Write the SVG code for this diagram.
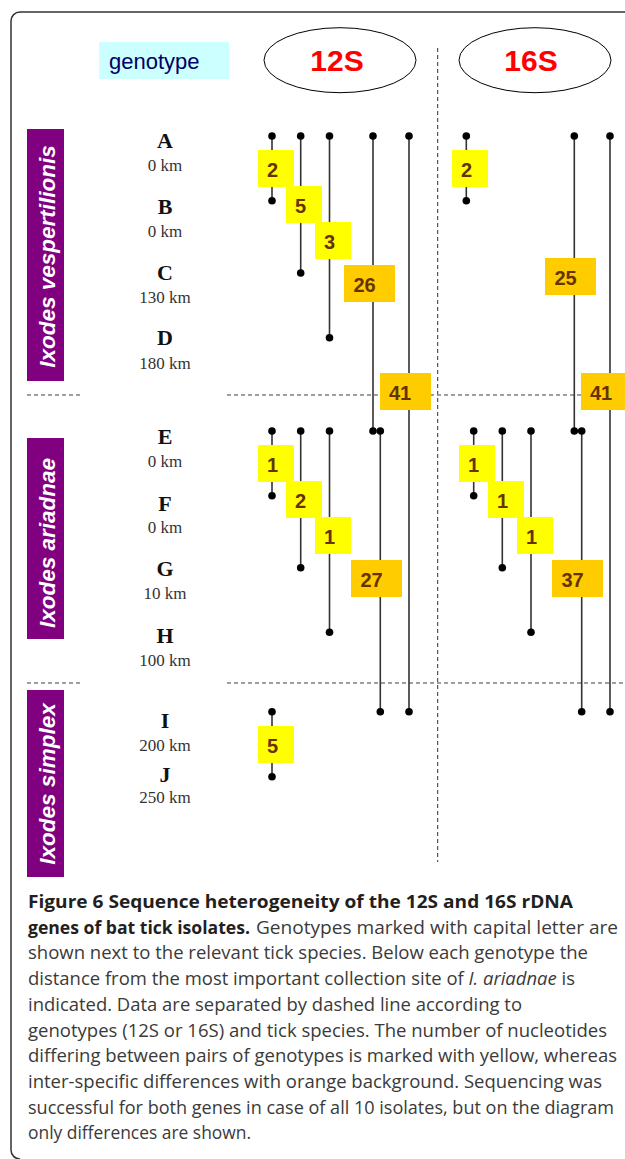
<svg xmlns="http://www.w3.org/2000/svg" width="625" height="1159" viewBox="0 0 625 1159">
<style>
.frame{fill:none;stroke:#333;stroke-width:1.5}
.hd{stroke:#808080;stroke-width:1.5;stroke-dasharray:4 3;fill:none}
.vd{stroke:#333;stroke-width:1;stroke-dasharray:4 3;fill:none}
.ln{stroke:#333;stroke-width:1.6;fill:none}
.dot{fill:#000}
.yb{fill:#ffff00}
.ob{fill:#ffcc00}
.num{font-family:"Liberation Sans",Arial,sans-serif;font-weight:bold;font-size:20px;fill:#663300}
.sp{fill:#800080}
.spt{font-family:"Liberation Sans",Arial,sans-serif;font-weight:bold;font-style:italic;font-size:22.5px;fill:#fff}
.let{font-family:"Liberation Serif","Times New Roman",serif;font-weight:bold;font-size:22px;fill:#111;text-anchor:middle}
.km{font-family:"Liberation Serif","Times New Roman",serif;font-size:17px;fill:#333;text-anchor:middle}
.gene{font-family:"Liberation Sans",Arial,sans-serif;font-weight:bold;font-size:30px;fill:#ff0000;text-anchor:middle}
.cap{font-family:"Open Sans","Liberation Sans",sans-serif;font-size:17.5px;fill:#3a3a3a}
.capb{font-weight:bold;fill:#231f20}
</style>
<path class="frame" d="M625 12 H20 A9 9 0 0 0 11 21 V1150 A9 9 0 0 0 20 1159"/>

<g id="header">
  <g id="genotype-label">
    <rect x="99" y="42" width="130" height="37" fill="#ccffff"/>
    <text x="109" y="69" font-family="Liberation Sans, Arial, sans-serif" font-size="22" fill="#000066">genotype</text>
  </g>
  <g id="gene-12S">
    <ellipse cx="340" cy="60.2" rx="76" ry="32.5" fill="#fff" stroke="#000" stroke-width="1"/>
    <text class="gene" x="337" y="70.7">12S</text>
  </g>
  <g id="gene-16S">
    <ellipse cx="535" cy="60.2" rx="76" ry="32.5" fill="#fff" stroke="#000" stroke-width="1"/>
    <text class="gene" x="531" y="70.7">16S</text>
  </g>
</g>

<g id="separators">
  <line class="vd" x1="437.7" y1="48" x2="437.7" y2="862"/>
  <line class="hd" x1="27" y1="395" x2="82" y2="395"/>
  <line class="hd" x1="227" y1="395" x2="625" y2="395"/>
  <line class="hd" x1="27" y1="683" x2="82" y2="683"/>
  <line class="hd" x1="227" y1="683" x2="625" y2="683"/>
</g>

<g id="species">
  <g id="sp-vespertilionis">
    <rect class="sp" x="27" y="129" width="37" height="252"/>
    <text class="spt" text-anchor="middle" transform="translate(55,256.5) rotate(-90)">Ixodes vespertilionis</text>
  </g>
  <g id="sp-ariadnae">
    <rect class="sp" x="27" y="438" width="37" height="201"/>
    <text class="spt" text-anchor="middle" transform="translate(55,543) rotate(-90)">Ixodes ariadnae</text>
  </g>
  <g id="sp-simplex">
    <rect class="sp" x="27" y="690" width="37" height="187"/>
    <text class="spt" text-anchor="middle" transform="translate(55,784) rotate(-90)">Ixodes simplex</text>
  </g>
</g>

<g id="genotypes">
  <g id="gt-A"><text class="let" x="165" y="148">A</text><text class="km" x="165" y="170.7">0 km</text></g>
  <g id="gt-B"><text class="let" x="165" y="214">B</text><text class="km" x="165" y="236.7">0 km</text></g>
  <g id="gt-C"><text class="let" x="165" y="279.5">C</text><text class="km" x="165" y="302.7">130 km</text></g>
  <g id="gt-D"><text class="let" x="165" y="345.3">D</text><text class="km" x="165" y="369.3">180 km</text></g>
  <g id="gt-E"><text class="let" x="165" y="444.3">E</text><text class="km" x="165" y="466.7">0 km</text></g>
  <g id="gt-F"><text class="let" x="165" y="510.7">F</text><text class="km" x="165" y="532.7">0 km</text></g>
  <g id="gt-G"><text class="let" x="165" y="576">G</text><text class="km" x="165" y="599.3">10 km</text></g>
  <g id="gt-H"><text class="let" x="165" y="642.7">H</text><text class="km" x="165" y="666">100 km</text></g>
  <g id="gt-I"><text class="let" x="165" y="728.3">I</text><text class="km" x="165" y="750.7">200 km</text></g>
  <g id="gt-J"><text class="let" x="165" y="781.7">J</text><text class="km" x="165" y="803.3">250 km</text></g>
</g>

<g id="connectors">
  <!-- 12S -->
  <line class="ln" x1="272" y1="136" x2="272" y2="200.7"/>
  <line class="ln" x1="300.7" y1="136" x2="300.7" y2="273"/>
  <line class="ln" x1="329.5" y1="136" x2="329.5" y2="337.7"/>
  <line class="ln" x1="373" y1="136" x2="373" y2="431"/>
  <line class="ln" x1="409" y1="136" x2="409" y2="711.7"/>
  <line class="ln" x1="272" y1="431" x2="272" y2="495.7"/>
  <line class="ln" x1="300.7" y1="431" x2="300.7" y2="567.7"/>
  <line class="ln" x1="329.5" y1="431" x2="329.5" y2="632.3"/>
  <line class="ln" x1="380.3" y1="431" x2="380.3" y2="711.7"/>
  <line class="ln" x1="272" y1="711.7" x2="272" y2="776.7"/>
  <!-- 16S -->
  <line class="ln" x1="466.3" y1="136" x2="466.3" y2="200.7"/>
  <line class="ln" x1="574.3" y1="136" x2="574.3" y2="431"/>
  <line class="ln" x1="610" y1="136" x2="610" y2="711.7"/>
  <line class="ln" x1="473.7" y1="431" x2="473.7" y2="495.7"/>
  <line class="ln" x1="502.3" y1="431" x2="502.3" y2="567.7"/>
  <line class="ln" x1="531" y1="431" x2="531" y2="632.3"/>
  <line class="ln" x1="581.7" y1="431" x2="581.7" y2="711.7"/>
  <!-- dots -->
  <g class="dot">
    <circle cx="272" cy="136" r="3.8"/><circle cx="300.7" cy="136" r="3.8"/><circle cx="329.5" cy="136" r="3.8"/><circle cx="373" cy="136" r="3.8"/><circle cx="409" cy="136" r="3.8"/>
    <circle cx="272" cy="200.7" r="3.8"/><circle cx="300.7" cy="273" r="3.8"/><circle cx="329.5" cy="337.7" r="3.8"/>
    <circle cx="272" cy="431" r="3.8"/><circle cx="300.7" cy="431" r="3.8"/><circle cx="329.5" cy="431" r="3.8"/><circle cx="373" cy="431" r="3.8"/><circle cx="380.3" cy="431" r="3.8"/>
    <circle cx="272" cy="495.7" r="3.8"/><circle cx="300.7" cy="567.7" r="3.8"/><circle cx="329.5" cy="632.3" r="3.8"/>
    <circle cx="272" cy="711.7" r="3.8"/><circle cx="380.3" cy="711.7" r="3.8"/><circle cx="409" cy="711.7" r="3.8"/><circle cx="272" cy="776.7" r="3.8"/>
    <circle cx="466.3" cy="136" r="3.8"/><circle cx="574.3" cy="136" r="3.8"/><circle cx="610" cy="136" r="3.8"/><circle cx="466.3" cy="200.7" r="3.8"/>
    <circle cx="473.7" cy="431" r="3.8"/><circle cx="502.3" cy="431" r="3.8"/><circle cx="531" cy="431" r="3.8"/><circle cx="574.3" cy="431" r="3.8"/><circle cx="581.7" cy="431" r="3.8"/>
    <circle cx="473.7" cy="495.7" r="3.8"/><circle cx="502.3" cy="567.7" r="3.8"/><circle cx="531" cy="632.3" r="3.8"/>
    <circle cx="581.7" cy="711.7" r="3.8"/><circle cx="610" cy="711.7" r="3.8"/>
  </g>
</g>

<g id="differences">
  <g id="d12-AB"><rect class="yb" x="258" y="150" width="36" height="37"/><text class="num" x="267" y="177">2</text></g>
  <g id="d12-AC"><rect class="yb" x="286" y="186" width="36" height="37"/><text class="num" x="295" y="213">5</text></g>
  <g id="d12-AD"><rect class="yb" x="315" y="222" width="36" height="37"/><text class="num" x="324" y="249">3</text></g>
  <g id="d12-AE"><rect class="ob" x="344" y="265" width="51" height="37"/><text class="num" x="353.5" y="292">26</text></g>
  <g id="d12-AI"><rect class="ob" x="380" y="373" width="51" height="37"/><text class="num" x="389" y="400">41</text></g>
  <g id="d16-AB"><rect class="yb" x="452" y="150" width="36" height="37"/><text class="num" x="461" y="177">2</text></g>
  <g id="d16-AE"><rect class="ob" x="545" y="258" width="51" height="37"/><text class="num" x="554.5" y="285">25</text></g>
  <g id="d16-AI"><rect class="ob" x="581" y="373" width="51" height="37"/><text class="num" x="590" y="400">41</text></g>
  <g id="d12-EF"><rect class="yb" x="258" y="445" width="36" height="37"/><text class="num" x="267" y="472">1</text></g>
  <g id="d12-EG"><rect class="yb" x="286" y="481" width="36" height="37"/><text class="num" x="295" y="508">2</text></g>
  <g id="d12-EH"><rect class="yb" x="315" y="517" width="36" height="37"/><text class="num" x="324" y="544">1</text></g>
  <g id="d12-EI"><rect class="ob" x="351" y="560" width="51" height="37"/><text class="num" x="360.5" y="587">27</text></g>
  <g id="d16-EF"><rect class="yb" x="459" y="445" width="36" height="37"/><text class="num" x="468" y="472">1</text></g>
  <g id="d16-EG"><rect class="yb" x="488" y="481" width="36" height="37"/><text class="num" x="497" y="508">1</text></g>
  <g id="d16-EH"><rect class="yb" x="517" y="517" width="36" height="37"/><text class="num" x="526" y="544">1</text></g>
  <g id="d16-EI"><rect class="ob" x="552" y="560" width="51" height="37"/><text class="num" x="561.5" y="587">37</text></g>
  <g id="d12-IJ"><rect class="yb" x="258" y="726" width="36" height="37"/><text class="num" x="267" y="753">5</text></g>
</g>

<g id="caption" class="cap">
  <text class="capb" x="28" y="908" textLength="545" lengthAdjust="spacingAndGlyphs">Figure 6 Sequence heterogeneity of the 12S and 16S rDNA</text>
  <text class="capb" x="28" y="933.7" textLength="222" lengthAdjust="spacingAndGlyphs">genes of bat tick isolates.</text>
  <text x="256" y="933.7" textLength="362" lengthAdjust="spacingAndGlyphs">Genotypes marked with capital letter are</text>
  <text x="28" y="959.4" textLength="560" lengthAdjust="spacingAndGlyphs">shown next to the relevant tick species. Below each genotype the</text>
  <text x="28" y="985.1" textLength="547" lengthAdjust="spacingAndGlyphs">distance from the most important collection site of <tspan font-style="italic">I. ariadnae</tspan> is</text>
  <text x="28" y="1010.8" textLength="494" lengthAdjust="spacingAndGlyphs">indicated. Data are separated by dashed line according to</text>
  <text x="28" y="1036.5" textLength="579" lengthAdjust="spacingAndGlyphs">genotypes (12S or 16S) and tick species. The number of nucleotides</text>
  <text x="28" y="1062.2" textLength="589" lengthAdjust="spacingAndGlyphs">differing between pairs of genotypes is marked with yellow, whereas</text>
  <text x="28" y="1087.9" textLength="574" lengthAdjust="spacingAndGlyphs">inter-specific differences with orange background. Sequencing was</text>
  <text x="28" y="1113.6" textLength="586" lengthAdjust="spacingAndGlyphs">successful for both genes in case of all 10 isolates, but on the diagram</text>
  <text x="28" y="1139.3" textLength="223" lengthAdjust="spacingAndGlyphs">only differences are shown.</text>
</g>
</svg>
